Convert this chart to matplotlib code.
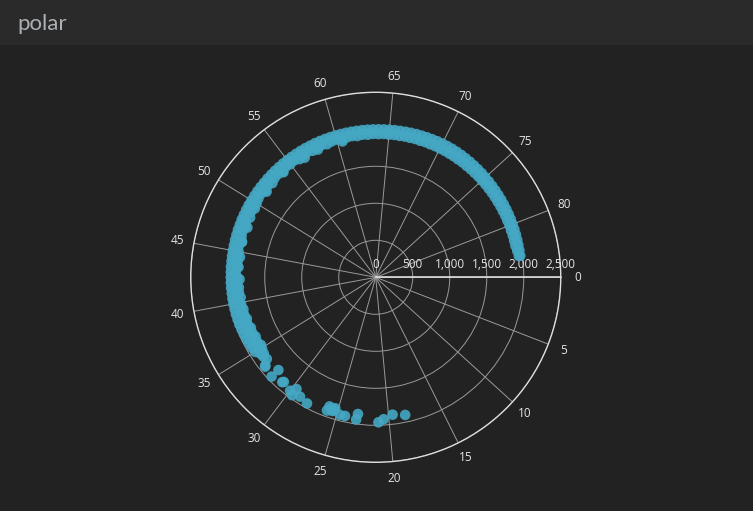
import numpy as np
import matplotlib
matplotlib.use("Agg")
import matplotlib.pyplot as plt

# angle axis runs 0..85 clockwise from east, radius 0..2500
period = 85
angle_ticks = [0, 5, 10, 15, 20, 25, 30, 35, 40, 45, 50, 55, 60, 65, 70, 75, 80]
radius_ticks = [0, 500, 1000, 1500, 2000, 2500]
radius_labels = ["0", "500", "1,000", "1,500", "2,000", "2,500"]

# dense band of points (angle, outer radius, inner radius)
band_angle = [35.0, 35.5, 36.0, 36.5, 37.0, 37.5,
              38.0, 38.5, 39.0, 39.5, 40.0, 40.5, 41.0, 41.5, 42.0, 42.5, 43.0, 43.5, 44.0, 44.5,
              45.0, 45.5, 46.0, 46.5, 47.0, 47.5, 48.0, 48.5, 49.0, 49.5,
              50.0, 50.5, 51.0, 51.5, 52.0, 52.5, 53.0, 53.5, 54.0, 54.5,
              55.0, 55.5, 56.0, 56.5, 57.0, 57.5, 58.0, 58.5, 59.0, 59.5,
              60.0, 60.5, 61.0, 61.5, 62.0, 62.5, 63.0, 63.5, 64.0, 64.5,
              65.0, 65.5, 66.0, 66.5, 67.0, 67.5, 68.0, 68.5, 69.0, 69.5,
              70.0, 70.5, 71.0, 71.5, 72.0, 72.5, 73.0, 73.5, 74.0, 74.5,
              75.0, 75.5, 76.0, 76.5, 77.0, 77.5, 78.0, 78.5, 79.0, 79.5,
              80.0, 80.5, 81.0, 81.5, 82.0, 82.5, 83.0]
band_outer = [1915, 1925, 1930, 1935, 1940, 1945,
              1950, 1952, 1955, 1955, 1957, 1958, 1958, 1960, 1960, 1960, 1960, 1962, 1962, 1963,
              1965, 1965, 1967, 1968, 1970, 1970, 1972, 1972, 1974, 1975,
              1975, 1976, 1977, 1978, 1978, 1980, 1980, 1982, 1982, 1983,
              1985, 1985, 1986, 1987, 1988, 1988, 1990, 1990, 1991, 1992,
              1993, 1993, 1994, 1995, 1996, 1997, 1998, 1999, 2000, 2002,
              2003, 2005, 2006, 2008, 2010, 2012, 2013, 2015, 2016, 2018,
              2020, 2020, 2020, 2019, 2018, 2016, 2014, 2012, 2010, 2008,
              2005, 2003, 2000, 1998, 1996, 1994, 1992, 1990, 1988, 1986,
              1984, 1982, 1980, 1978, 1976, 1975, 1975]
band_inner = [1840, 1830, 1850, 1835, 1860, 1845,
              1870, 1855, 1880, 1865, 1875, 1890, 1860, 1880, 1885, 1870, 1895, 1875, 1880, 1890,
              1885, 1900, 1870, 1895, 1905, 1890, 1910, 1880, 1905, 1915,
              1895, 1910, 1920, 1900, 1915, 1890, 1915, 1920, 1905, 1925,
              1915, 1925, 1900, 1920, 1930, 1910, 1925, 1930, 1915, 1930,
              1935, 1920, 1930, 1935, 1925, 1935, 1930, 1938, 1935, 1940,
              1935, 1940, 1938, 1942, 1940, 1943, 1940, 1945, 1942, 1945,
              1943, 1945, 1944, 1945, 1943, 1945, 1942, 1944, 1942, 1943,
              1940, 1942, 1940, 1941, 1940, 1938, 1939, 1937, 1938, 1936,
              1937, 1935, 1936, 1935, 1935, 1945, 1955]

# low points inside the band on the left half
inside_angle = [33.8, 34.4, 34.9, 35.3, 35.8, 36.3, 36.8, 37.3, 37.8, 38.3, 38.8, 39.3,
                39.8, 40.5, 41.5, 42.3, 43.5, 44.5, 46.0, 47.5, 49.5, 51.5, 54.0, 56.5,
                58.0, 60.5]
inside_r = [1840, 1830, 1815, 1800, 1825, 1810, 1830, 1820, 1845, 1830, 1850, 1840,
            1855, 1845, 1855, 1840, 1860, 1855, 1870, 1860, 1880, 1875, 1890, 1880,
            1895, 1890]

# loose points at the low end of the arc
loose_angle = [18.4, 19.6, 20.5, 21.0, 23.0, 23.1, 24.2, 24.7, 25.3, 25.4, 25.5, 25.6,
               25.9, 26.0, 28.0, 28.9, 29.6, 29.6, 30.0, 31.0, 31.1, 32.2, 32.2, 33.3,
               33.4, 34.2, 34.6]
loose_r = [1902, 1870, 1921, 1960, 1863, 1940, 1919, 1921, 1853, 1882, 1900, 1870,
           1854, 1917, 1941, 1910, 1851, 1953, 1920, 1882, 1898, 1817, 1944, 1921,
           1908, 1859, 1870]


def to_rad(v):
    return np.asarray(v, dtype=float) / period * 2 * np.pi


bg = "#222222"
fig = plt.figure(figsize=(7.53, 5.11), dpi=100, facecolor=bg)

# header bar
fig.patches.append(plt.Rectangle((0, 1 - 45 / 511), 1, 45 / 511, transform=fig.transFigure,
                                  facecolor="#2a2a2a", edgecolor="none", zorder=0))
fig.text(17 / 753, 1 - 24 / 511, "polar", fontsize=16, family="Lato", color="#adb1b4",
         ha="left", va="center")

ax = fig.add_axes([0.2533, 0.0953, 0.4914, 0.7241], projection="polar")
ax.set_facecolor(bg)
ax.set_theta_zero_location("E")
ax.set_theta_direction(-1)
ax.set_ylim(0, 2500)
ax.set_axisbelow(True)

ax.set_xticks(to_rad(angle_ticks))
ax.set_xticklabels([str(a) for a in angle_ticks], fontsize=8.5, family="Open Sans", color="#e6e6e6")
ax.tick_params(axis="x", direction="out", length=5, width=0.8, color="#dddddd", pad=0)
ax.set_yticks(radius_ticks[1:])
ax.set_yticklabels([])
ax.tick_params(axis="y", length=0)
ax.grid(True, color="#9a9a9a", lw=0.7)
ax.spines["polar"].set_color("#dddddd")
ax.spines["polar"].set_linewidth(1.0)

# radius axis line along angle 0
ax.plot([0, 0], [0, 2500], color="#dddddd", lw=1.2, zorder=2)
for r, lab in zip(radius_ticks, radius_labels):
    ax.annotate(lab, xy=(0, r), xytext=(0, 9), textcoords="offset points",
                ha="center", va="center", fontsize=8.5, family="Open Sans", color="#e6e6e6")

col = "#45a8c4"
kw = dict(s=58, color=col, alpha=0.9, edgecolors="none", zorder=3)
ax.scatter(to_rad(inside_angle), inside_r, **kw)
ax.scatter(to_rad(band_angle), band_inner, **kw)
ax.scatter(to_rad(band_angle), band_outer, **kw)
ax.scatter(to_rad(loose_angle), loose_r, **kw)

fig.savefig("out.png", dpi=100, facecolor=bg)
